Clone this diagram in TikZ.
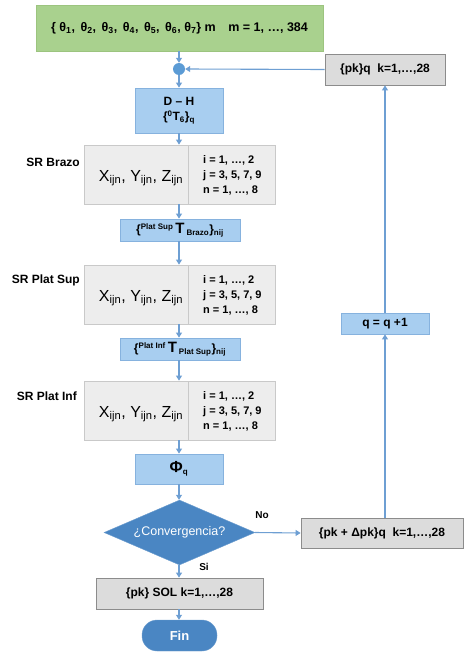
\documentclass[tikz,border=0pt]{standalone}
\usepackage{fontspec}
\setmainfont{Liberation Sans}
\usetikzlibrary{shapes.geometric,arrows.meta,calc}
\definecolor{gfill}{HTML}{A9D18E}
\definecolor{gdraw}{HTML}{9CC47F}
\definecolor{lbfill}{HTML}{A8CEF0}
\definecolor{lbdraw}{HTML}{86B2DE}
\definecolor{srfill}{HTML}{EDEDED}
\definecolor{srdraw}{HTML}{C9C9C9}
\definecolor{pkfill}{HTML}{DCDCDC}
\definecolor{pkdraw}{HTML}{8C8C8C}
\definecolor{dblue}{HTML}{4A86C3}
\definecolor{arr}{HTML}{6E9FD3}
\definecolor{jcol}{HTML}{5B9BD5}
\tikzset{
  box/.style={rectangle,inner sep=0pt,font=\bfseries\fontsize{12}{14}\selectfont},
  greenbox/.style={box,fill=gfill,draw=gdraw,line width=0.6pt},
  bluebox/.style={box,fill=lbfill,draw=lbdraw,line width=0.8pt},
  srbox/.style={box,fill=srfill,draw=srdraw,line width=0.8pt},
  pkbox/.style={box,fill=pkfill,draw=pkdraw,line width=0.8pt},
  srlabel/.style={font=\bfseries\fontsize{12}{14}\selectfont,anchor=east,inner sep=0pt},
  xyz/.style={font=\fontsize{16}{18}\selectfont,inner sep=0pt},
  idx/.style={font=\bfseries\fontsize{11}{15}\selectfont,align=left,anchor=west,inner sep=0pt},
  flow/.style={draw=arr,line width=1.1pt,-{Triangle[length=5pt,width=6pt]}},
  lab/.style={font=\bfseries\fontsize{10}{12}\selectfont,inner sep=0pt}
}
\newcommand{\Xyz}{X\textsubscript{ijn}, Y\textsubscript{ijn}, Z\textsubscript{ijn}}
\newcommand{\Idx}{i = 1, …, 2\\ j = 3, 5, 7, 9\\ n = 1, …, 8}
\begin{document}
\begin{tikzpicture}[x=1pt,y=-1pt]
\useasboundingbox (0,0) rectangle (464,653);
% top green box
\node[greenbox,minimum width=287pt,minimum height=46pt] (in) at (179.5,28)
  {\fontsize{12.5}{15}\selectfont\{ θ\textsubscript{1},\ \,θ\textsubscript{2},\ \,θ\textsubscript{3},\ \,θ\textsubscript{4},\ \,θ\textsubscript{5},\ \,θ\textsubscript{6}, θ\textsubscript{7}\} m\quad m = 1, …, 384};
% junction
\node[circle,fill=jcol,minimum size=12pt,inner sep=0pt] (j) at (179,69) {};
% pk q
\node[pkbox,minimum width=120pt,minimum height=31pt] (pkq) at (385,69.5) {\{pk\}q\ \ k=1,…,28};
% D-H
\node[bluebox,minimum width=88pt,minimum height=45pt,align=center] (dh) at (179,110.5)
  {D – H\\[1pt]\{\textsuperscript{0}T\textsubscript{6}\}\textsubscript{q}};
% SR Brazo
\node[srbox,minimum width=191pt,minimum height=59pt] (b1) at (179.5,174.5) {};
\draw[srdraw,line width=0.8pt] (188,145) -- (188,204);
\node[xyz] (b1x) at (141,178) {\Xyz};
\node[idx] (b1i) at (203,175.5) {\Idx};
\node[srlabel] (b1l) at (80,162) {SR Brazo};
% T1
\node[bluebox,minimum width=120pt,minimum height=22pt] (t1) at (180,230)
  {\{\textsuperscript{\fontsize{8}{8}\selectfont Plat Sup}\,{\fontsize{15}{15}\selectfont T}\,\textsubscript{\fontsize{8}{8}\selectfont Brazo}\}\textsubscript{\fontsize{8}{8}\selectfont nij}};
% SR Plat Sup
\node[srbox,minimum width=191pt,minimum height=59pt] (b2) at (179.5,294.5) {};
\draw[srdraw,line width=0.8pt] (188,265) -- (188,324);
\node[xyz] (b2x) at (141,298) {\Xyz};
\node[idx] (b2i) at (203,295.5) {\Idx};
\node[srlabel] (b2l) at (80,280) {SR Plat Sup};
% T2
\node[bluebox,minimum width=120pt,minimum height=22pt] (t2) at (180,349)
  {\{\textsuperscript{\fontsize{8}{8}\selectfont Plat Inf}\,{\fontsize{15}{15}\selectfont T}\,\textsubscript{\fontsize{8}{8}\selectfont Plat Sup}\}\textsubscript{\fontsize{8}{8}\selectfont nij}};
% SR Plat Inf
\node[srbox,minimum width=191pt,minimum height=59pt] (b3) at (179.5,410.5) {};
\draw[srdraw,line width=0.8pt] (188,381) -- (188,440);
\node[xyz] (b3x) at (141,414) {\Xyz};
\node[idx] (b3i) at (203,411.5) {\Idx};
\node[srlabel] (b3l) at (77,396) {SR Plat Inf};
% Phi
\node[bluebox,minimum width=88pt,minimum height=30pt] (phi) at (179,469)
  {{\fontsize{16}{16}\selectfont Φ}\textsubscript{q}};
% diamond
\node[diamond,aspect=2.32,fill=dblue,draw=dblue!80!white,inner sep=0pt,minimum width=151pt,minimum height=65pt,
  text=white,font=\fontsize{12.5}{14}\selectfont] (conv) at (179.5,532.5) {¿Convergencia?};
% pk + delta
\node[pkbox,minimum width=162pt,minimum height=30pt] (pkd) at (382,533) {\{pk + Δpk\}q\ \ k=1,…,28};
% q = q+1
\node[bluebox,minimum width=88pt,minimum height=21pt] (qq) at (385,323.5) {q = q +1};
% SOL
\node[pkbox,minimum width=167pt,minimum height=31pt] (sol) at (179.5,593.5) {\{pk\} SOL k=1,…,28};
% Fin
\node[rectangle,rounded corners=15pt,fill=dblue,draw=dblue!80!white,minimum width=75pt,minimum height=31pt,
  inner sep=0pt,text=white,font=\bfseries\fontsize{13}{15}\selectfont] (fin) at (179.5,635.5) {Fin};
% labels
\node[lab] (no) at (262,515) {No};
\node[lab] (si) at (204,567) {Si};
% connectors
\draw[flow] (in.south -| j) -- (j.north);
\draw[flow] (j.south) -- (dh.north -| j);
\draw[flow] (dh.south -| j) -- (b1.north -| j);
\draw[flow] (b1.south -| j) -- (t1.north -| j);
\draw[flow] (t1.south -| j) -- (b2.north -| j);
\draw[flow] (b2.south -| j) -- (t2.north -| j);
\draw[flow] (t2.south -| j) -- (b3.north -| j);
\draw[flow] (b3.south -| j) -- (phi.north -| j);
\draw[flow] (phi.south -| j) -- (conv.north -| j);
\draw[flow] (conv.south -| j) -- (sol.north -| j);
\draw[flow] (sol.south -| j) -- (fin.north -| j);
\draw[flow] (conv.east) -- (pkd.west);
\draw[flow] (pkd.north -| qq) -- (qq.south);
\draw[flow] (qq.north) -- (pkq.south);
\draw[flow] (pkq.west) -- (j.east);
\end{tikzpicture}
\end{document}
